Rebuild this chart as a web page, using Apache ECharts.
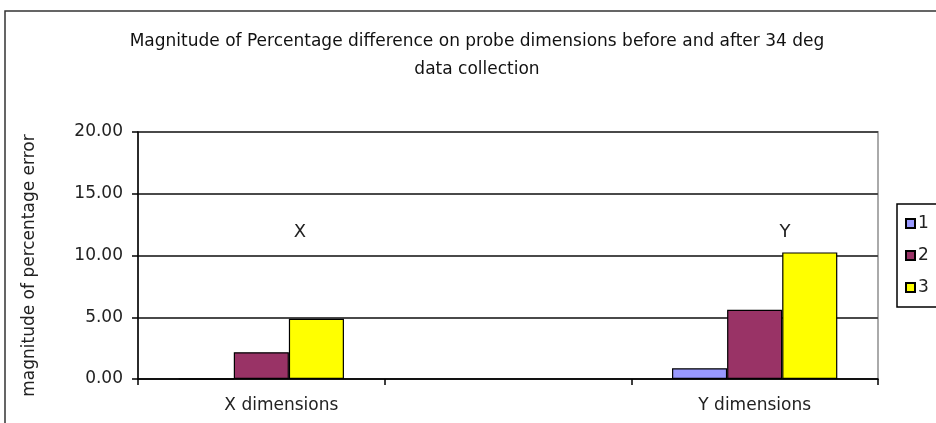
<!DOCTYPE html>
<html><head><meta charset="utf-8">
<script src="https://cdn.jsdelivr.net/npm/echarts@6/dist/echarts.min.js"></script>
<style>html,body{margin:0;padding:0;background:#fff}#c{width:936px;height:423px}</style>
</head><body><div id="c"></div>
<script>
const categories = ['X dimensions', '', 'Y dimensions'];
const seriesNames = ['1', '2', '3'];
const series1 = [0, null, 0.87];
const series2 = [2.17, null, 5.6];
const series3 = [4.87, null, 10.25];
const yTicks = [0, 5, 10, 15, 20];
const annotations = ['X', 'Y'];

const colors = ['#9999FF', '#993366', '#FFFF00'];
const font = '"DejaVu Sans", sans-serif';
const chart = echarts.init(document.getElementById('c'), null, {renderer: 'canvas'});
const dataSets = [series1, series2, series3];
chart.setOption({
  animation: false,
  backgroundColor: '#fff',
  title: {
    text: 'Magnitude of Percentage difference on probe dimensions before and after 34 deg\ndata collection',
    left: 472, top: 23, textAlign: 'center',
    textStyle: {fontFamily: font, fontSize: 17, fontWeight: 'normal', color: '#111', lineHeight: 28}
  },
  legend: {
    orient: 'vertical', left: 897, top: 204,
    data: seriesNames, icon: 'rect', itemWidth: 9, itemHeight: 9, itemGap: 15,
    padding: [11, 20, 11, 8], borderColor: '#000', borderWidth: 1.5,
    textStyle: {fontFamily: font, fontSize: 17, color: '#222', padding: [0, 0, 0, -2]}
  },
  grid: {left: 138, right: 58, top: 132, bottom: 44, show: true, borderColor: '#aaa', borderWidth: 2},
  xAxis: {
    type: 'category', data: categories,
    axisLine: {lineStyle: {color: '#000', width: 1.5}},
    axisTick: {show: true, length: 6, lineStyle: {color: '#000', width: 1.5}},
    axisLabel: {fontFamily: font, fontSize: 17, color: '#222', margin: 18,
      formatter: (v, i) => i === 0 ? '{s|' + v + '}' : v,
      rich: {s: {fontFamily: font, fontSize: 17, color: '#222', padding: [0, 0, 0, 40]}}}
  },
  yAxis: {
    type: 'value', min: 0, max: 20, interval: 5,
    name: 'magnitude of percentage error', nameLocation: 'middle', nameGap: 100,
    nameTextStyle: {fontFamily: font, fontSize: 17, color: '#222', padding: [0, 0, 0, -20]},
    axisLine: {show: true, lineStyle: {color: '#000', width: 1.5}},
    axisTick: {show: true, length: 6, lineStyle: {color: '#000', width: 1.5}},
    axisLabel: {fontFamily: font, fontSize: 17, color: '#222', margin: 15,
      formatter: v => yTicks.includes(v) ? v.toFixed(2) : ''},
    splitLine: {lineStyle: {color: '#4a4a4a', width: 2}}
  },
  series: dataSets.map((d, i) => ({
    name: seriesNames[i], type: 'bar', data: d,
    barGap: '0%', barCategoryGap: '33%',
    itemStyle: {color: colors[i], borderColor: '#000', borderWidth: 1.2}
  })),
  graphic: [
    {type: 'rect', shape: {x: 5, y: 11, width: 1000, height: 1000}, style: {fill: 'none', stroke: '#333', lineWidth: 1.5}, z: 100},
    {type: 'text', x: 300, y: 232, style: {text: annotations[0], font: '18px ' + font, fill: '#222', align: 'center', verticalAlign: 'middle'}},
    {type: 'text', x: 785, y: 232, style: {text: annotations[1], font: '18px ' + font, fill: '#222', align: 'center', verticalAlign: 'middle'}}
  ]
});
</script></body></html>
